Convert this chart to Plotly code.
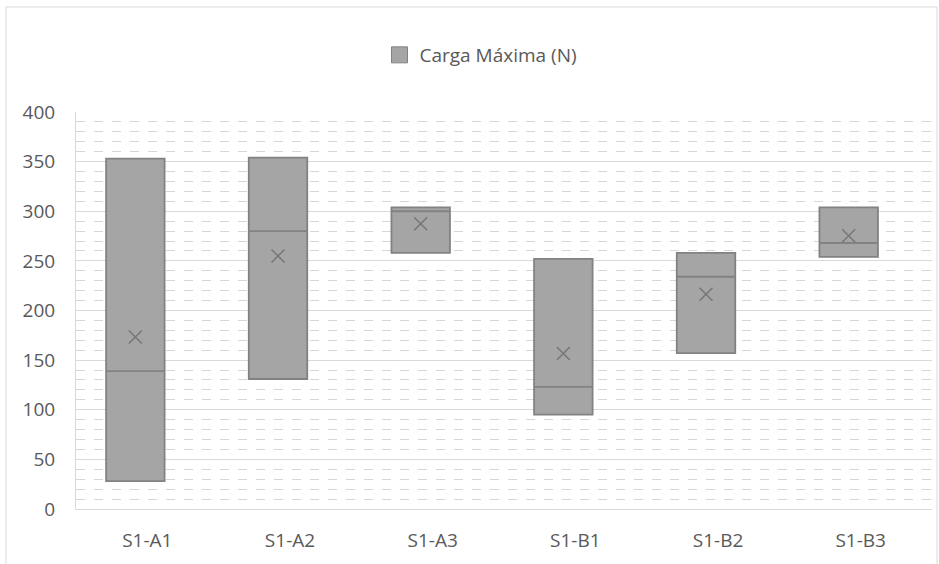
import numpy as np
import plotly.graph_objects as go

categories = ["S1-A1", "S1-A2", "S1-A3", "S1-B1", "S1-B2", "S1-B3"]
# three specimens per group (min, middle, max)
values = {
    "S1-A1": [28, 139, 353],
    "S1-A2": [131, 280, 354],
    "S1-A3": [258, 300, 304],
    "S1-B1": [95, 123, 252],
    "S1-B2": [157, 234, 258],
    "S1-B3": [254, 268, 304],
}
series_name = "Carga Máxima (N)"
y_ticks = [0, 50, 100, 150, 200, 250, 300, 350, 400]

W, H = 939, 564
ml, mr, mt, mb = 76, 7, 112, 55
pw, ph = W - ml - mr, H - mt - mb

box_shift = -0.084   # Excel draws the boxes slightly left of the category centre
box_width = 0.41

pos = np.arange(len(categories))
xs, ys = [], []
for i, c in enumerate(categories):
    for v in values[c]:
        xs.append(pos[i] + box_shift)
        ys.append(v)
means = [float(np.mean(values[c])) for c in categories]

fill = "#a5a5a5"
edge = "#828282"
txt = "#595959"
font = "Open Sans"
fs = 19

fig = go.Figure()
fig.add_trace(go.Box(
    x=xs, y=ys, name=series_name, boxpoints=False,
    quartilemethod="exclusive", fillcolor=fill, width=box_width,
    line=dict(color=edge, width=1.8), whiskerwidth=0,
    showlegend=False, hoverinfo="skip",
))
fig.add_trace(go.Scatter(
    x=pos + box_shift, y=means, mode="markers", showlegend=False,
    marker=dict(symbol="x-thin", size=13, line=dict(color="#767676", width=1.5)),
))
fig.add_trace(go.Scatter(
    x=[None], y=[None], mode="markers", name=series_name, showlegend=True,
    marker=dict(symbol="square", size=18, color=fill, line=dict(color=edge, width=1)),
))

fig.update_layout(
    width=W, height=H,
    margin=dict(l=ml, r=mr, t=mt, b=mb),
    paper_bgcolor="white", plot_bgcolor="white",
    font=dict(family=font, size=fs, color=txt),
    legend=dict(orientation="h", x=(481 - ml) / pw, xanchor="center",
                y=(H - mb - 55) / ph, yanchor="middle",
                font=dict(family=font, size=fs, color=txt),
                itemwidth=30),
    xaxis=dict(
        range=[-0.5, len(categories) - 0.5],
        tickvals=list(pos), ticktext=categories,
        showgrid=False, showline=True, linecolor="#d9d9d9", linewidth=1,
        zeroline=False, ticks="", tickfont=dict(size=fs, color=txt),
        ticklabelstandoff=14, fixedrange=True,
    ),
    yaxis=dict(
        range=[0, 400], tickvals=y_ticks, showgrid=True,
        gridcolor="#d9d9d9", gridwidth=1, zeroline=False,
        showline=True, linecolor="#d9d9d9", linewidth=1,
        ticks="", tickfont=dict(size=fs, color=txt), ticklabelstandoff=16,
        minor=dict(dtick=10, showgrid=True, gridcolor="#d6d6d6",
                   griddash="dash", gridwidth=1),
    ),
    shapes=[dict(
        type="rect", xref="paper", yref="paper", layer="below",
        x0=(6 - ml) / pw, x1=(937 - ml) / pw,
        y0=(H - mb - 575) / ph, y1=(H - mb - 7) / ph,
        line=dict(color="#d9d9d9", width=1), fillcolor="rgba(0,0,0,0)",
    )],
)

fig.write_html("out.html")
